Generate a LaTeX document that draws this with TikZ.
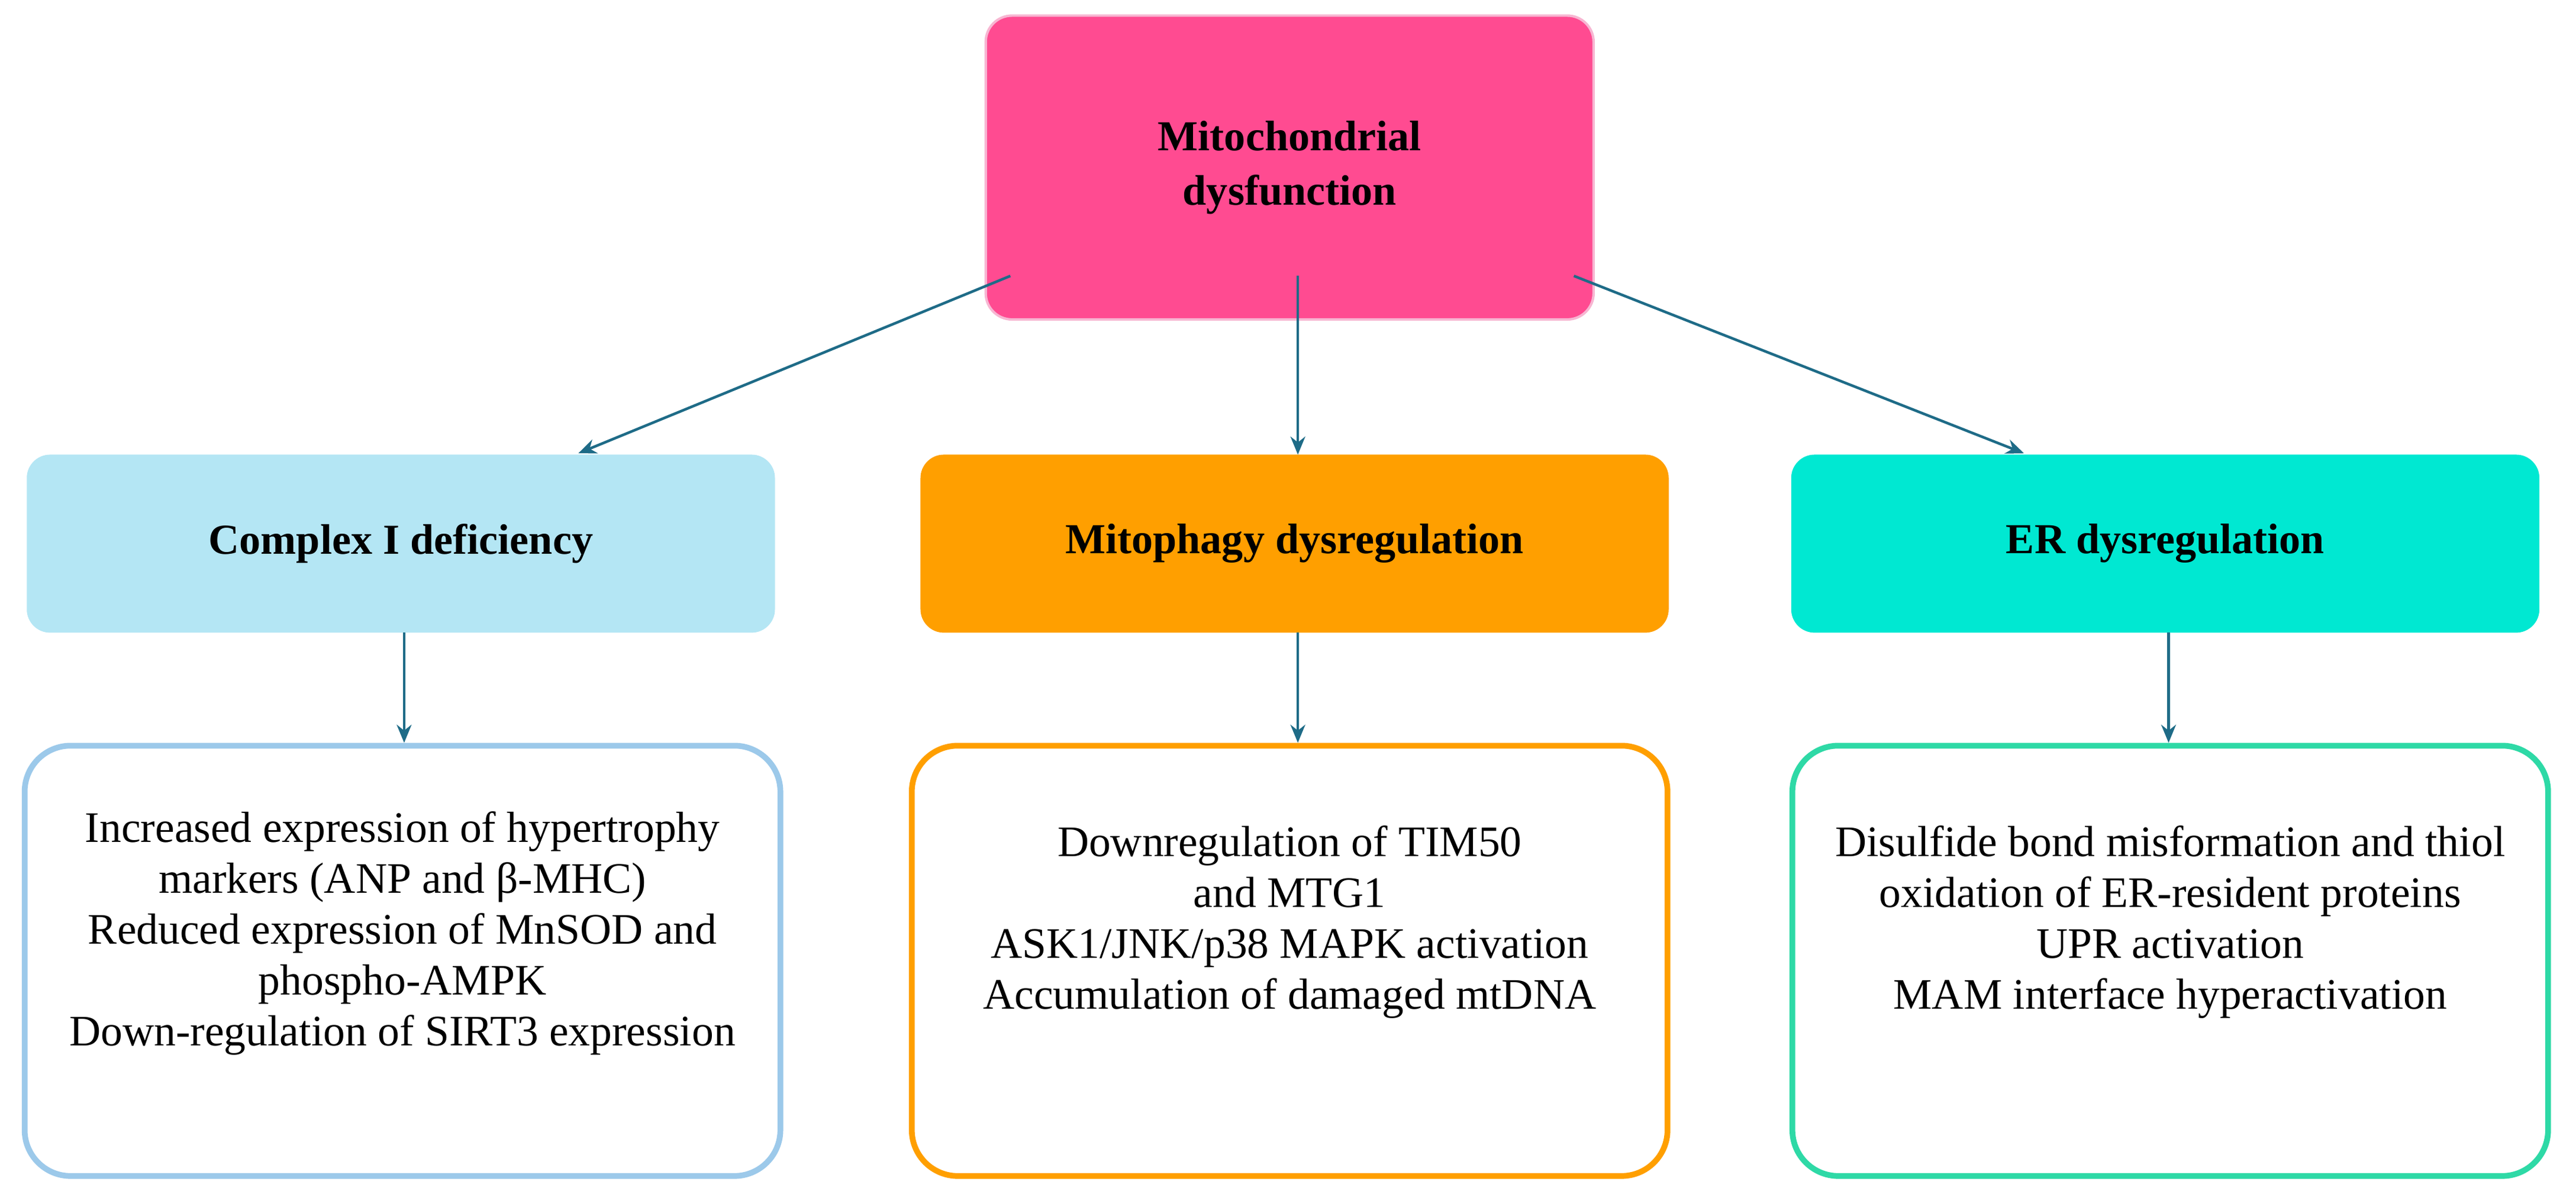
\documentclass[tikz,border=0pt]{standalone}
\usepackage{fontspec}
\setmainfont{Liberation Serif}
\usetikzlibrary{arrows.meta}
\definecolor{pinkf}{HTML}{FF4B91}
\definecolor{pinkb}{HTML}{F7B6D2}
\definecolor{blue1}{HTML}{B4E6F4}
\definecolor{blueb}{HTML}{9CC9EA}
\definecolor{orng}{HTML}{FF9F00}
\definecolor{turq}{HTML}{00E8D2}
\definecolor{grn}{HTML}{2ED9A6}
\definecolor{arr}{HTML}{1E6B87}
\begin{document}
\begin{tikzpicture}[x=1pt,y=-1pt,
  hd/.style={rounded corners=14pt,minimum width=455pt,minimum height=108pt,font=\fontsize{26}{30}\selectfont\bfseries,align=center,inner sep=0},
  bt/.style={rounded corners=28pt,line width=3.5pt,fill=white,minimum width=460pt,minimum height=262pt,font=\fontsize{26.5}{31}\selectfont,align=center,inner sep=0},
  ar/.style={draw=arr,line width=1.6pt,-{Stealth[length=11pt,width=9pt]}}]
\useasboundingbox (0,0) rectangle (1568,731);
\node[rounded corners=16pt,fill=pinkf,draw=pinkb,line width=1.5pt,minimum width=370pt,minimum height=185pt,font=\fontsize{26}{33}\selectfont\bfseries,align=center] (top) at (785,102) {Mitochondrial\\dysfunction};
\node[hd,fill=blue1,draw=blue1] (h1) at (244,331) {Complex I deficiency};
\node[hd,fill=orng,draw=orng] (h2) at (788,331) {Mitophagy dysregulation};
\node[hd,fill=turq,draw=turq] (h3) at (1318,331) {ER dysregulation};
\node[bt,draw=blueb] (b1) at (245,585) {Increased expression of hypertrophy\\markers (ANP and β-MHC)\\Reduced expression of MnSOD and\\phospho-AMPK\\Down-regulation of SIRT3 expression\\[8pt]};
\node[bt,draw=orng] (b2) at (785,585) {Downregulation of TIM50\\and MTG1\\ASK1/JNK/p38 MAPK activation\\Accumulation of damaged mtDNA\\[22pt]};
\node[bt,draw=grn] (b3) at (1321,585) {Disulfide bond misformation and thiol\\oxidation of ER-resident proteins\\UPR activation\\MAM interface hyperactivation\\[22pt]};
\coordinate (s1) at (615,168);
\coordinate (s2) at (790,168);
\coordinate (s3) at (958,168);
\coordinate (e1) at (352,276);
\coordinate (e3) at (1232,276);
\coordinate (v1) at (246,0);
\coordinate (v2) at (790,0);
\coordinate (v3) at (1320,0);
\draw[ar] (s1) -- (e1);
\draw[ar] (s2) -- (s2 |- h2.north);
\draw[ar] (s3) -- (e3);
\draw[ar] (v1 |- h1.south) -- (v1 |- b1.north);
\draw[ar] (v2 |- h2.south) -- (v2 |- b2.north);
\draw[ar] (v3 |- h3.south) -- (v3 |- b3.north);
\end{tikzpicture}
\end{document}
